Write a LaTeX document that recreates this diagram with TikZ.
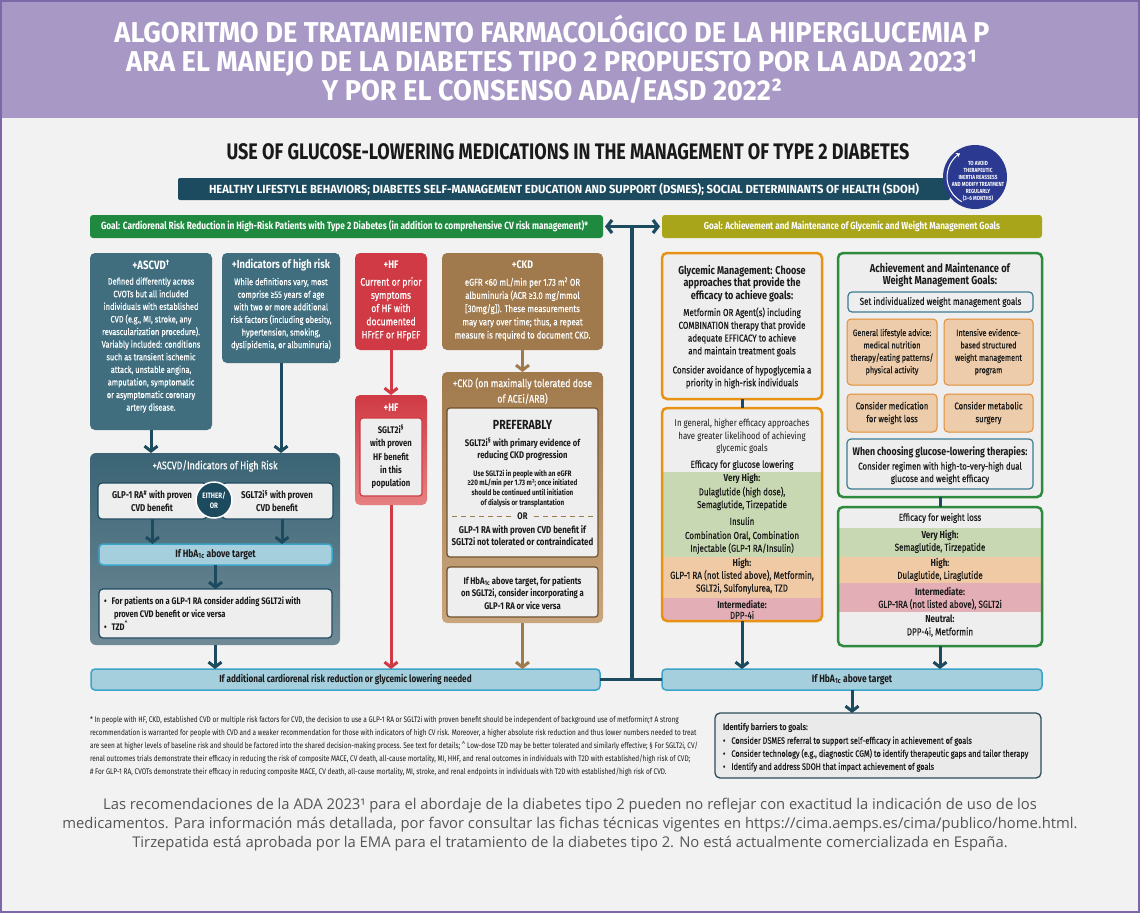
\documentclass[tikz,border=0pt]{standalone}
\usepackage{fontspec}
\usetikzlibrary{arrows.meta}
\newfontfamily\cf[FakeStretch=0.8]{Fira Sans}
\newfontfamily\cfm[FakeStretch=0.8,FakeBold=0.4]{Fira Sans}
\newfontfamily\cfw[FakeStretch=0.95]{Fira Sans}
\newfontfamily\os{Open Sans}
\definecolor{lav}{RGB}{168,152,198}
\definecolor{bord}{RGB}{124,104,168}
\definecolor{bgc}{RGB}{242,242,242}
\definecolor{dteal}{RGB}{28,74,94}
\definecolor{tealc}{RGB}{64,110,127}
\definecolor{gGreen}{RGB}{31,138,63}
\definecolor{olive}{RGB}{168,165,26}
\definecolor{redc}{RGB}{208,58,68}
\definecolor{brownc}{RGB}{160,122,76}
\definecolor{lblue}{RGB}{166,207,221}
\definecolor{lblueb}{RGB}{58,165,201}
\definecolor{orangec}{RGB}{232,146,20}
\definecolor{greenb}{RGB}{46,139,62}
\definecolor{innerg}{RGB}{238,238,238}
\definecolor{vgreen}{RGB}{200,216,178}
\definecolor{vorange}{RGB}{239,202,165}
\definecolor{vpink}{RGB}{227,174,182}
\definecolor{obox}{RGB}{236,204,170}
\definecolor{oboxb}{RGB}{226,140,50}
\definecolor{circb}{RGB}{43,57,144}
\definecolor{bluec}{RGB}{61,122,144}
\definecolor{txt}{RGB}{26,26,26}
\definecolor{greyt}{RGB}{85,85,85}
\newcommand\bx[6]{\node[#6, minimum width={(#4-#2)*1pt}, minimum height={(#5-#3)*1pt}] (#1) at ({(#2+#4)/2},{(#3+#5)/2}) {};}
\begin{document}
\begin{tikzpicture}[x=1pt,y=-1pt,
  every node/.style={inner sep=0pt, outer sep=0pt},
  W/.style={text=white, align=center, font=\cfm\fontsize{9.3}{12.6}\selectfont},
  WB/.style={text=white, align=center, font=\cf\bfseries\fontsize{11}{14}\selectfont},
  D/.style={text=txt, align=center, font=\cfm\fontsize{10}{12.8}\selectfont},
  DR/.style={text=txt, align=center, font=\cf\fontsize{9.8}{12.5}\selectfont},
  DB/.style={text=txt, align=center, font=\cf\bfseries\fontsize{9.6}{12.8}\selectfont},
  arr/.style={line width=3pt, -{Straight Barb[length=5pt,width=13pt]}},
  grey box/.style={fill=innerg, draw=dteal, line width=1.2pt, rounded corners=4pt},
  cbar/.style={fill=lblue, draw=lblueb, line width=1.5pt, rounded corners=4pt}]
\useasboundingbox (0,0) rectangle (1140,913);
% background and banner
\fill[bgc] (0,0) rectangle (1140,913);
\fill[lav] (0,0) rectangle (1140,118);
\draw[bord, line width=2pt] (1,1) rectangle (1139,912);
\node[text=white, align=center, font=\cfw\bfseries\fontsize{28.7}{29}\selectfont] (banner) at (552,59)
 {ALGORITMO DE TRATAMIENTO FARMACOLÓGICO DE LA HIPERGLUCEMIA P\\ARA EL MANEJO DE LA DIABETES TIPO 2 PROPUESTO POR LA ADA 2023¹\\Y POR EL CONSENSO ADA/EASD 2022²};
\node[text=txt, font=\cf\bfseries\fontsize{22.5}{24}\selectfont] (maintitle) at (568,152)
 {USE OF GLUCOSE-LOWERING MEDICATIONS IN THE MANAGEMENT OF TYPE 2 DIABETES};
\bx{life}{178}{178}{950}{200}{fill=dteal, rounded corners=2pt}
\node[text=white, font=\cfw\bfseries\fontsize{11.8}{14}\selectfont] (lifeT) at (life.center)
 {HEALTHY LIFESTYLE BEHAVIORS; DIABETES SELF-MANAGEMENT EDUCATION AND SUPPORT (DSMES); SOCIAL DETERMINANTS OF HEALTH (SDOH)};
% goals
\bx{goalL}{90}{215}{603}{238}{fill=gGreen, rounded corners=3pt}
\node[text=white, font=\cf\bfseries\fontsize{10.4}{11}\selectfont] (goalLT) at ([xshift=-2pt]goalL.center)
 {Goal: Cardiorenal Risk Reduction in High-Risk Patients with Type 2 Diabetes (in addition to comprehensive CV risk management)*};
\bx{goalR}{662}{215}{1042}{238}{fill=olive, rounded corners=3pt}
\node[text=white, font=\cf\bfseries\fontsize{10.2}{11}\selectfont] (goalRT) at (goalR.center)
 {Goal: Achievement and Maintenance of Glycemic and Weight Management Goals};
% circle
\node[circle, fill=circb, minimum size=64pt] (circ) at (975,177) {};
\draw[white, line width=1pt, -{Stealth[length=4pt,width=5pt]}] (circ.center) ++(118:28) arc[start angle=118, end angle=238, radius=28];
\node[text=white, align=center, font=\cf\bfseries\fontsize{5.9}{7}\selectfont] (circT) at (978,181)
 {TO AVOID\\THERAPEUTIC\\INERTIA REASSESS\\AND MODIFY TREATMENT\\REGULARLY\\(3–6 MONTHS)};
% ASCVD
\bx{ascvd}{90}{253}{212}{430}{fill=tealc, rounded corners=5pt}
\node[WB, font=\cf\bfseries\fontsize{12}{14}\selectfont] (ascvdT) at (151,265) {+ASCVD\textsuperscript{†}};
\node[W] (ascvdB) at (151,345) {Defined differently across\\CVOTs but all included\\individuals with established\\CVD (e.g., MI, stroke, any\\revascularization procedure).\\Variably included: conditions\\such as transient ischemic\\attack, unstable angina,\\amputation, symptomatic\\or asymptomatic coronary\\artery disease.};
\bx{indic}{222}{253}{340}{363}{fill=tealc, rounded corners=5pt}
\node[WB, font=\cf\bfseries\fontsize{11.7}{14}\selectfont] (indicT) at (281,265) {+Indicators of high risk};
\node[W] (indicB) at (281,314) {While definitions vary, most\\comprise ≥55 years of age\\with two or more additional\\risk factors (including obesity,\\hypertension, smoking,\\dyslipidemia, or albuminuria)};
% HF
\bx{hf1}{355}{253}{427}{350}{fill=redc, rounded corners=5pt}
\node[WB] (hf1T) at (391,265) {+HF};
\node[W, font=\cfm\fontsize{10.8}{13.2}\selectfont] (hf1B) at (391,309) {Current or prior\\symptoms\\of HF with\\documented\\HFrEF or HFpEF};
\bx{hf2}{355}{395}{427}{505}{top color=redc, bottom color={rgb,255:red,230;green,128;blue,128}, rounded corners=5pt}
\node[WB] (hf2T) at (391,408) {+HF};
\bx{hfin}{360}{418}{422}{496}{fill=innerg, draw=redc, line width=1.2pt, rounded corners=3pt}
\node[DB, font=\cf\bfseries\fontsize{9.6}{13.4}\selectfont] (hfinT) at (391,457) {SGLT2i\textsuperscript{§}\\with proven\\HF benefit\\in this\\population};
% CKD
\bx{ckd1}{442}{253}{603}{350}{fill=brownc, rounded corners=5pt}
\node[WB] (ckd1T) at (522.5,265) {+CKD};
\node[W, font=\cfm\fontsize{9.8}{13.2}\selectfont] (ckd1B) at (522.5,309) {eGFR <60 mL/min per 1.73 m\textsuperscript{2} OR\\albuminuria (ACR ≥3.0 mg/mmol\\{[}30mg/g{]}). These measurements\\may vary over time; thus, a repeat\\measure is required to document CKD.};
\bx{ckd2}{442}{372}{603}{623}{top color=brownc, bottom color={rgb,255:red,202;green,166;blue,126}, rounded corners=5pt}
\node[WB, font=\cfm\fontsize{11}{15.5}\selectfont] (ckd2T) at (522.5,391) {+CKD (on maximally tolerated dose\\of ACEi/ARB)};
\bx{ckda}{447}{408}{598}{557}{fill=innerg, draw={rgb,255:red,110;green,80;blue,45}, line width=1.2pt, rounded corners=3pt}
\node[text=txt, font=\cf\bfseries\fontsize{13.2}{16}\selectfont] (pref) at (522.5,425) {PREFERABLY};
\node[DB] (pref2) at (522.5,449.5) {SGLT2i\textsuperscript{§} with primary evidence of\\reducing CKD progression};
\node[DB, font=\cf\bfseries\fontsize{7.9}{9.8}\selectfont] (pref3) at (522.5,488.5) {Use SGLT2i in people with an eGFR\\≥20 mL/min per 1.73 m²; once initiated\\should be continued until initiation\\of dialysis or transplantation};
\node[DB] (orT) at (522.5,516) {OR};
\draw[brownc, line width=1pt, dash pattern=on 5pt off 4pt] (ckda.west |- orT.west) ++(5,0) -- ([xshift=-6pt]orT.west);
\draw[brownc, line width=1pt, dash pattern=on 5pt off 4pt] ([xshift=6pt]orT.east) -- ([xshift=-5pt]ckda.east |- orT.east);
\node[DB, font=\cf\bfseries\fontsize{9.9}{12.8}\selectfont] (pref4) at (522.5,535.5) {GLP-1 RA with proven CVD benefit if\\SGLT2i not tolerated or contraindicated};
\bx{ckdb}{447}{567}{598}{617}{fill=innerg, draw={rgb,255:red,110;green,80;blue,45}, line width=1.2pt, rounded corners=3pt}
\node[DB] (ckdbT) at (522.5,593) {If HbA\textsubscript{1c} above target, for patients\\on SGLT2i, consider incorporating a\\GLP-1 RA or vice versa};
% ASCVD lower
\bx{ascvd2}{90}{453}{340}{645}{top color={rgb,255:red,58;green,100;blue,117}, bottom color={rgb,255:red,112;green,138;blue,150}, rounded corners=6pt}
\node[WB, font=\cfm\fontsize{11.1}{13}\selectfont] (ascvd2T) at (215,466) {+ASCVD/Indicators of High Risk};
\bx{glp}{98}{483}{207}{519}{grey box}
\bx{sglt}{222}{483}{333}{519}{grey box}
\node[DB, font=\cf\bfseries\fontsize{9.9}{12.8}\selectfont] (glpT) at (152,501) {GLP-1 RA\textsuperscript{\#} with proven\\CVD benefit};
\node[DB, font=\cf\bfseries\fontsize{9.9}{12.8}\selectfont] (sgltT) at (277,501) {SGLT2i\textsuperscript{§} with proven\\CVD benefit};
\node[circle, fill=dteal, draw=white, line width=1.5pt, minimum size=36pt] (either) at (214,500) {};
\node[text=white, align=center, font=\cf\bfseries\fontsize{7.8}{10}\selectfont] (eitherT) at (either.center) {EITHER/\\OR};
\bx{hba1}{99}{544}{332}{565}{cbar}
\node[DB, font=\cf\bfseries\fontsize{10.6}{12.8}\selectfont] (hba1T) at (hba1.center) {If HbA\textsubscript{1c} above target};
\bx{bul}{99}{589}{332}{638}{grey box}
\node[D, align=left, font=\cf\bfseries\fontsize{9.5}{13.2}\selectfont, anchor=west] (bulT) at (104,613.5) {\textbullet\hspace{5pt}For patients on a GLP-1 RA consider adding SGLT2i with\\\hspace*{10pt}proven CVD benefit or vice versa\\\textbullet\hspace{5pt}TZD\textsuperscript{\textasciicircum}};
\draw[arr, dteal] (glp.south) -- (glp.south |- hba1.north);
\draw[arr, dteal] (sglt.south -| 282,0) -- (282,544);
\draw[arr, dteal] (hba1.south) -- (bul.north);
\draw[arr, dteal] (ascvd.south) -- (ascvd.south |- ascvd2.north);
\draw[arr, dteal] (indic.south) -- (indic.south |- ascvd2.north);
% HF / CKD arrows
\draw[arr, redc] (hf1.south) -- (hf2.north);
\draw[arr, brownc] (ckd1.south) -- (ckd2.north);
% bottom left bar
\bx{addbar}{91}{669}{600}{690}{cbar}
\node[DB, font=\cf\bfseries\fontsize{10.2}{12.8}\selectfont] (addbarT) at (addbar.center) {If additional cardiorenal risk reduction or glycemic lowering needed};
\draw[arr, dteal] (ascvd2.south) -- (ascvd2.south |- addbar.north);
\draw[arr, redc] (hf2.south) -- (hf2.south |- addbar.north);
\draw[arr, brownc] (ckd2.south) -- (ckd2.south |- addbar.north);
% glycemic
\bx{glyc1}{662}{253}{822}{399}{fill=innerg, draw=orangec, line width=2.5pt, rounded corners=5pt}
\node[DB, font=\cf\bfseries\fontsize{11.3}{12.6}\selectfont] (glyc1T) at (742,283.5) {Glycemic Management: Choose\\approaches that provide the\\efficacy to achieve goals:};
\node[D] (glyc1B) at (742,332) {Metformin OR Agent(s) including\\COMBINATION therapy that provide\\adequate EFFICACY to achieve\\and maintain treatment goals};
\node[D] (glyc1C) at (742,377) {Consider avoidance of hypoglycemia a\\priority in high-risk individuals};
\begin{scope}
\clip[rounded corners=5pt] (662,408) rectangle (822,621);
\fill[innerg] (662,408) rectangle (822,472);
\fill[vgreen] (662,472) rectangle (822,557);
\fill[vorange] (662,557) rectangle (822,598);
\fill[vpink] (662,598) rectangle (822,621);
\end{scope}
\bx{glyc2}{662}{408}{822}{621}{draw=orangec, line width=2.5pt, rounded corners=5pt}
\draw[dteal, line width=3pt] (glyc1.south) -- (glyc2.north);
\node[DR] (g2a) at (742,436.5) {In general, higher efficacy approaches\\have greater likelihood of achieving\\glycemic goals};
\node[D] (g2b) at (742,465) {Efficacy for glucose lowering};
\node[DB, font=\cf\bfseries\fontsize{10}{12.8}\selectfont] (g2c) at (742,479) {Very High:};
\node[D] (g2d) at (742,498.5) {Dulaglutide (high dose),\\Semaglutide, Tirzepatide};
\node[D] (g2e) at (742,521) {Insulin};
\node[D] (g2f) at (742,542.5) {Combination Oral, Combination\\Injectable (GLP-1 RA/Insulin)};
\node[DB, font=\cf\bfseries\fontsize{10}{12.8}\selectfont] (g2g) at (742,564) {High:};
\node[D, font=\cfm\fontsize{10.2}{12.8}\selectfont] (g2h) at (742,582) {GLP-1 RA (not listed above), Metformin,\\SGLT2i, Sulfonylurea, TZD};
\node[D, font=\cfm\fontsize{10}{10.5}\selectfont] (g2i) at (742,609.5) {{\cf\bfseries Intermediate:}\\DPP-4i};
% weight
\bx{wt1}{838}{253}{1042}{497}{fill=innerg, draw=greenb, line width=2.5pt, rounded corners=5pt}
\node[DB, font=\cf\bfseries\fontsize{11.6}{12.6}\selectfont] (wt1T) at (940,275) {Achievement and Maintenance of\\Weight Management Goals:};
\bx{wset}{848}{292}{1033}{312}{fill=innerg, draw=bluec, line width=1.2pt, rounded corners=4pt}
\node[D] (wsetT) at (wset.center) {Set individualized weight management goals};
\bx{o1}{847}{319}{937}{385}{fill=obox, draw=oboxb, line width=1pt, rounded corners=4pt}
\bx{o2}{944}{319}{1033}{385}{fill=obox, draw=oboxb, line width=1pt, rounded corners=4pt}
\bx{o3}{847}{394}{937}{432}{fill=obox, draw=oboxb, line width=1pt, rounded corners=4pt}
\bx{o4}{944}{394}{1033}{432}{fill=obox, draw=oboxb, line width=1pt, rounded corners=4pt}
\node[D, font=\cfm\fontsize{9.1}{12.4}\selectfont] (o1T) at (o1.center) {General lifestyle advice:\\medical nutrition\\therapy/eating patterns/\\physical activity};
\node[D, font=\cfm\fontsize{9.1}{12.4}\selectfont] (o2T) at (o2.center) {Intensive evidence-\\based structured\\weight management\\program};
\node[D, font=\cfm\fontsize{9.7}{12.8}\selectfont] (o3T) at (o3.center) {Consider medication\\for weight loss};
\node[D, font=\cfm\fontsize{9.7}{12.8}\selectfont] (o4T) at (o4.center) {Consider metabolic\\surgery};
\bx{wch}{847}{439}{1033}{489}{fill=innerg, draw=bluec, line width=1.2pt, rounded corners=4pt}
\node[DB, font=\cf\bfseries\fontsize{11}{12}\selectfont] (wchT) at (940,452) {When choosing glucose-lowering therapies:};
\node[D, font=\cfm\fontsize{9.9}{12.4}\selectfont] (wchB) at (940,473) {Consider regimen with high-to-very-high dual\\glucose and weight efficacy};
\begin{scope}
\clip[rounded corners=5pt] (838,507) rectangle (1042,646);
\fill[innerg] (838,507) rectangle (1042,528);
\fill[vgreen] (838,528) rectangle (1042,557);
\fill[vorange] (838,557) rectangle (1042,583);
\fill[vpink] (838,583) rectangle (1042,612);
\fill[innerg] (838,612) rectangle (1042,646);
\end{scope}
\bx{wt2}{838}{507}{1042}{646}{draw=greenb, line width=2.5pt, rounded corners=5pt}
\draw[dteal, line width=3pt] (wt1.south) -- (wt2.north);
\node[D] (w2a) at (940,518) {Efficacy for weight loss};
\node[D, font=\cfm\fontsize{10.1}{12.5}\selectfont] (w2b) at (940,541.5) {{\cf\bfseries Very High:}\\Semaglutide, Tirzepatide};
\node[D, font=\cfm\fontsize{10.1}{12.5}\selectfont] (w2c) at (940,569.5) {{\cf\bfseries High:}\\Dulaglutide, Liraglutide};
\node[D, font=\cfm\fontsize{10.1}{12.0}\selectfont] (w2d) at (940,598.5) {{\cf\bfseries Intermediate:}\\GLP-1RA (not listed above), SGLT2i};
\node[D, font=\cfm\fontsize{10.1}{12.5}\selectfont] (w2e) at (940,626) {{\cf\bfseries Neutral:}\\DPP-4i, Metformin};
% bottom right
\bx{hbabar}{662}{669}{1042}{690}{cbar}
\node[DB, font=\cf\bfseries\fontsize{10.6}{12.8}\selectfont] (hbabarT) at (hbabar.center) {If HbA\textsubscript{1c} above target};
\draw[arr, dteal] (glyc2.south) -- (glyc2.south |- hbabar.north);
\draw[arr, dteal] (wt2.south) -- (wt2.south |- hbabar.north);
\bx{barr}{715}{713}{1041}{778}{fill={rgb,255:red,234;green,234;blue,234}, draw={rgb,255:red,46;green,76;blue,92}, line width=1.3pt, rounded corners=5pt}
\node[D, align=left, anchor=west, font=\cfm\fontsize{9.2}{13}\selectfont] (barrT) at (723,747.5) {{\cf\bfseries Identify barriers to goals:}\\\textbullet\hspace{6pt}Consider DSMES referral to support self-efficacy in achievement of goals\\\textbullet\hspace{6pt}Consider technology (e.g., diagnostic CGM) to identify therapeutic gaps and tailor therapy\\\textbullet\hspace{6pt}Identify and address SDOH that impact achievement of goals};
\draw[arr, dteal] (hbabar.south) -- (hbabar.south |- barr.north);
% central connector
\coordinate (jtop) at (632,226.5);
\draw[line width=3.2pt, dteal, {Straight Barb[length=5pt,width=13pt]}-{Straight Barb[length=5pt,width=13pt]}] ([xshift=2pt]goalL.east) -- ([xshift=-2pt]goalR.west);
\draw[line width=3.2pt, dteal] (jtop) -- (632,679.5);
\draw[line width=3.2pt, dteal] (addbar.east) -- (hbabar.west);
% footnotes
\node[text=txt, align=left, anchor=north west, font=\cf\fontsize{8.1}{13}\selectfont] (foot) at (90,716)
 {* In people with HF, CKD, established CVD or multiple risk factors for CVD, the decision to use a GLP-1 RA or SGLT2i with proven benefit should be independent of background use of metformin;† A strong\\
 recommendation is warranted for people with CVD and a weaker recommendation for those with indicators of high CV risk. Moreover, a higher absolute risk reduction and thus lower numbers needed to treat\\
 are seen at higher levels of baseline risk and should be factored into the shared decision-making process. See text for details; \textasciicircum{} Low-dose TZD may be better tolerated and similarly effective; § For SGLT2i, CV/\\
 renal outcomes trials demonstrate their efficacy in reducing the risk of composite MACE, CV death, all-cause mortality, MI, HHF, and renal outcomes in individuals with T2D with established/high risk of CVD;\\
 \# For GLP-1 RA, CVOTs demonstrate their efficacy in reducing composite MACE, CV death, all-cause mortality, MI, stroke, and renal endpoints in individuals with T2D with established/high risk of CVD.};
% bottom note
\node[text=greyt, align=center, font=\os\fontsize{14.8}{19}\selectfont] (note) at (570,825)
 {Las recomendaciones de la ADA 2023¹ para el abordaje de la diabetes tipo 2 pueden no reflejar con exactitud la indicación de uso de los\\medicamentos. Para información más detallada, por favor consultar las fichas técnicas vigentes en https://cima.aemps.es/cima/publico/home.html.\\Tirzepatida está aprobada por la EMA para el tratamiento de la diabetes tipo 2. No está actualmente comercializada en España.};
\end{tikzpicture}
\end{document}
